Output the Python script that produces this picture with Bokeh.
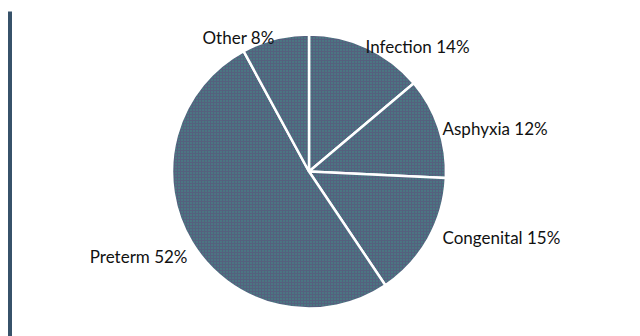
import numpy as np
from bokeh.plotting import figure
from bokeh.models import Range1d, ColumnDataSource
from bokeh.core.properties import value
from bokeh.embed import file_html
from bokeh.resources import INLINE

# data
categories = ["Infection", "Asphyxia", "Congenital", "Preterm", "Other"]
percents = [14, 12, 15, 52, 8]

# layout (page pixel coordinates)
W, H = 632, 336
PAGE_H = 336
cx, cy, r = 308.5, 171.0, 137.0
label_x = [365, 442, 442, 187, 202]
label_y = [46, 128, 237, 256, 37]
label_align = ["left", "left", "left", "right", "left"]

vals = np.array(percents, dtype=float)
frac = vals / vals.sum()
cum = np.concatenate([[0], np.cumsum(frac)])
start = np.pi / 2 - cum[:-1] * 2 * np.pi
end = np.pi / 2 - cum[1:] * 2 * np.pi

p = figure(width=W, height=H, output_backend="svg", toolbar_location=None,
           x_range=Range1d(0, W), y_range=Range1d(PAGE_H - H, PAGE_H),
           min_border=0, outline_line_color=None)
p.axis.visible = False
p.grid.visible = False
p.background_fill_color = "white"
p.border_fill_color = "white"

# left decorative bar
p.quad(left=[7.5], right=[11.5], bottom=[PAGE_H - 336], top=[PAGE_H - 11],
       fill_color="#37526a", line_color=None)

src = ColumnDataSource(dict(start=start, end=end, cat=categories))
p.wedge(x=cx, y=PAGE_H - cy, radius=r, start_angle="start", end_angle="end",
        direction="clock", source=src,
        fill_color="#55607e", hatch_pattern="dot", hatch_color="#3a9686",
        hatch_scale=3, hatch_weight=2,
        line_color="white", line_width=2.5)

labels = [f"{c} {v}%" for c, v in zip(categories, percents)]
for t, x, y, a in zip(labels, label_x, label_y, label_align):
    p.text(x=[x], y=[PAGE_H - y], text=[t], text_font=value("Lato"),
           text_font_size="17px", text_color="#111111", text_align=a,
           text_baseline="alphabetic")

open("out.html", "w").write(file_html(p, INLINE))
